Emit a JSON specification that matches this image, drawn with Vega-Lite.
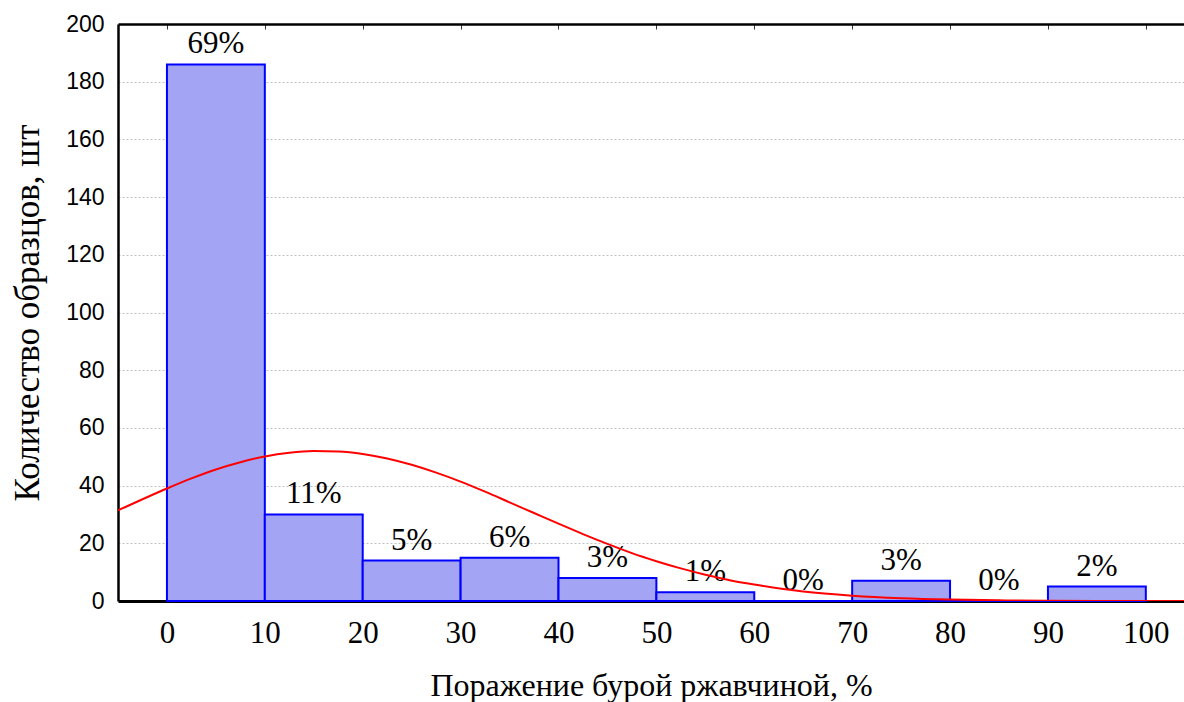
{
  "$schema": "https://vega.github.io/schema/vega-lite/v6.json",
  "autosize": {"type": "none"},
  "padding": {"left": 118, "top": 24, "right": 0, "bottom": 101},
  "width": 1066,
  "height": 577,
  "background": "white",
  "config": {"view": {"stroke": null}},
  "datasets": {
    "bins": [
      {"lo": 0, "hi": 10, "mid": 5, "count": 186, "pct": "69%"},
      {"lo": 10, "hi": 20, "mid": 15, "count": 30, "pct": "11%"},
      {"lo": 20, "hi": 30, "mid": 25, "count": 14, "pct": "5%"},
      {"lo": 30, "hi": 40, "mid": 35, "count": 15, "pct": "6%"},
      {"lo": 40, "hi": 50, "mid": 45, "count": 8, "pct": "3%"},
      {"lo": 50, "hi": 60, "mid": 55, "count": 3, "pct": "1%"},
      {"lo": 60, "hi": 70, "mid": 65, "count": 0, "pct": "0%"},
      {"lo": 70, "hi": 80, "mid": 75, "count": 7, "pct": "3%"},
      {"lo": 80, "hi": 90, "mid": 85, "count": 0, "pct": "0%"},
      {"lo": 90, "hi": 100, "mid": 95, "count": 5, "pct": "2%"}
    ],
    "curve": [
      {"x": -5, "y": 31.4}, {"x": 0, "y": 39.0}, {"x": 2.5, "y": 42.5}, {"x": 5, "y": 45.6},
      {"x": 7.5, "y": 48.1}, {"x": 10, "y": 50.1}, {"x": 12.5, "y": 51.4}, {"x": 15, "y": 51.96},
      {"x": 17.5, "y": 51.8}, {"x": 20, "y": 50.97}, {"x": 22.5, "y": 49.4}, {"x": 25, "y": 47.2},
      {"x": 27.5, "y": 44.5}, {"x": 30, "y": 41.4}, {"x": 32.5, "y": 37.9}, {"x": 35, "y": 34.2},
      {"x": 37.5, "y": 30.5}, {"x": 40, "y": 26.8}, {"x": 42.5, "y": 23.2}, {"x": 45, "y": 19.8},
      {"x": 47.5, "y": 16.6}, {"x": 50, "y": 13.8}, {"x": 52.5, "y": 11.3}, {"x": 55, "y": 9.1},
      {"x": 57.5, "y": 7.2}, {"x": 60, "y": 5.7}, {"x": 65, "y": 3.3}, {"x": 70, "y": 1.86},
      {"x": 75, "y": 0.98}, {"x": 80, "y": 0.49}, {"x": 85, "y": 0.23}, {"x": 90, "y": 0.1},
      {"x": 95, "y": 0.04}, {"x": 100, "y": 0.017}, {"x": 105, "y": 0.006}
    ]
  },
  "resolve": {"axis": {"x": "independent"}},
  "layer": [
    {
      "data": {"name": "bins"},
      "mark": {"type": "rect", "fill": "#a4a4f4", "stroke": "#0000ff", "strokeWidth": 2},
      "encoding": {
        "x": {
          "field": "lo", "type": "quantitative",
          "scale": {"domain": [-5, 103.9], "nice": false, "zero": false},
          "axis": {
            "orient": "bottom",
            "values": [0, 10, 20, 30, 40, 50, 60, 70, 80, 90, 100],
            "title": "Поражение бурой ржавчиной, %",
            "titleFont": "Liberation Serif", "titleFontSize": 32, "titleFontWeight": "normal",
            "titleColor": "black", "titlePadding": 22,
            "labelFont": "Liberation Serif", "labelFontSize": 31, "labelColor": "black",
            "labelPadding": 17, "ticks": false, "grid": false,
            "domainColor": "black", "domainWidth": 3
          }
        },
        "x2": {"field": "hi"},
        "y": {
          "field": "count", "type": "quantitative",
          "scale": {"domain": [0, 200], "nice": false},
          "axis": {
            "values": [0, 20, 40, 60, 80, 100, 120, 140, 160, 180, 200],
            "title": "Количество образцов, шт",
            "titleFont": "Liberation Serif", "titleFontSize": 35, "titleFontWeight": "normal",
            "titleColor": "black", "titlePadding": 20,
            "labelFont": "Liberation Sans", "labelFontSize": 23, "labelColor": "black",
            "labelPadding": 14, "ticks": false,
            "grid": true, "gridColor": "#c0c0c0", "gridDash": [2, 2], "gridWidth": 1,
            "domainColor": "black", "domainWidth": 2.5
          }
        },
        "y2": {"datum": 0}
      }
    },
    {
      "data": {"name": "bins"},
      "mark": {"type": "text", "font": "Liberation Serif", "fontSize": 31, "color": "black", "dy": -11, "baseline": "alphabetic"},
      "encoding": {
        "x": {"field": "mid", "type": "quantitative", "scale": {"domain": [-5, 103.9], "nice": false, "zero": false}, "axis": null},
        "y": {"field": "count", "type": "quantitative", "scale": {"domain": [0, 200], "nice": false}},
        "text": {"field": "pct"}
      }
    },
    {
      "data": {"name": "curve"},
      "mark": {"type": "line", "color": "#ff0000", "strokeWidth": 2, "interpolate": "monotone", "clip": true},
      "encoding": {
        "x": {
          "field": "x", "type": "quantitative",
          "scale": {"domain": [-5, 103.9], "nice": false, "zero": false},
          "axis": {
            "orient": "top", "values": [0, 10, 20, 30, 40, 50, 60, 70, 80, 90, 100],
            "labels": false, "title": null, "grid": false,
            "ticks": true, "tickSize": -5, "tickColor": "#333333", "tickWidth": 1,
            "domainColor": "black", "domainWidth": 2.5
          }
        },
        "y": {"field": "y", "type": "quantitative", "scale": {"domain": [0, 200], "nice": false}}
      }
    }
  ]
}
